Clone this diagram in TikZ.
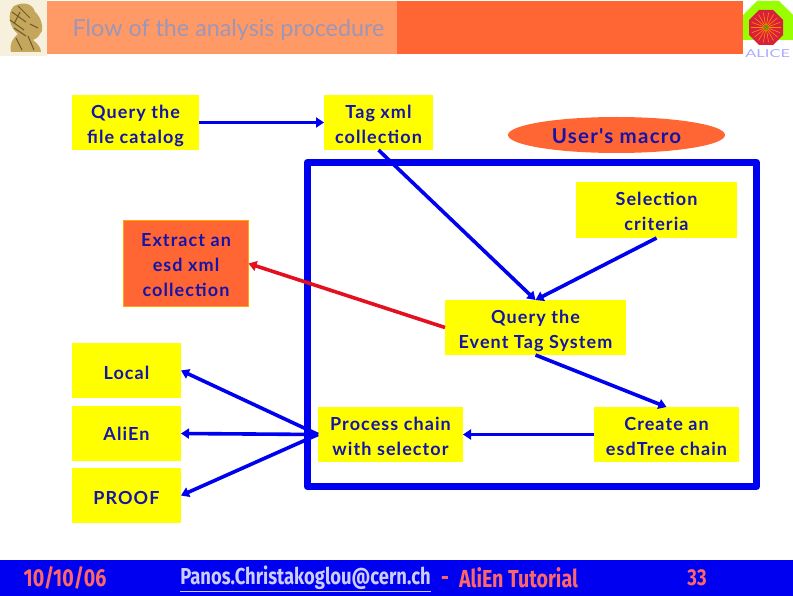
\documentclass[tikz,border=0pt]{standalone}
\usepackage{fontspec}
\usetikzlibrary{arrows.meta,shapes.geometric}
\setmainfont{Lato}
\newfontfamily\boxfont[LetterSpace=6,BoldFont={Lato Bold}]{Lato}
\newfontfamily\footfont[FakeStretch=0.8]{Fira Sans}
\newcommand{\stacktext}[1]{\raisebox{-7.5pt}[0pt][0pt]{\begin{tabular}{@{}c@{}}#1\end{tabular}}}
\definecolor{inkblue}{HTML}{1414A8}
\definecolor{purewall}{HTML}{0000F0}
\definecolor{boxyellow}{HTML}{FFFF00}
\definecolor{hot}{HTML}{FF6633}
\definecolor{pale}{HTML}{FF9966}
\definecolor{titleink}{HTML}{9C96B8}
\definecolor{footred}{HTML}{FF6666}
\definecolor{footpale}{HTML}{CCCCFF}
\definecolor{beige}{HTML}{F6F0DC}
\definecolor{gold}{HTML}{C4A65C}
\definecolor{golddark}{HTML}{6E5A2A}
\definecolor{lime}{HTML}{99FF00}
\definecolor{crimson}{HTML}{D8203C}
\definecolor{arrowred}{HTML}{E41020}
\tikzset{
  x=1pt,y=-1pt,
  lbl/.style={font=\boxfont\bfseries\fontsize{18}{25}\selectfont,text=inkblue,inner sep=0pt,outer sep=0pt},
  ybox/.style={lbl,fill=boxyellow,minimum width=#1,minimum height=55pt},
  ybox/.default=110pt,
  flow/.style={draw=purewall,line width=3.6pt,-{Triangle[length=8pt,width=10pt]}},
  redflow/.style={draw=arrowred,line width=3.6pt,-{Triangle[length=8pt,width=10pt]}},
  foot/.style={font=\footfont\bfseries,inner sep=0pt,anchor=center}
}
\begin{document}
\begin{tikzpicture}
\useasboundingbox (0,0) rectangle (793,596);
\fill[white] (0,0) rectangle (793,596);
% header
\fill[beige] (0,0) rectangle (47,56);
\fill[pale] (47,1) rectangle (397,54);
\fill[hot] (397,1) rectangle (743,54);
\node[font=\fontsize{23.3}{26}\selectfont,text=titleink,inner sep=0pt] (title) at (228.5,30) {Flow of the analysis procedure};
% left emblem
\fill[gold] (14,6) .. controls (24,1) and (33,4) .. (35,12) .. controls (41,17) and (43,26) .. (42,31)
  -- (40,34) .. controls (38,38) and (35,39) .. (33,40) .. controls (38,44) and (41,48) .. (41,52)
  -- (11,52) .. controls (9,44) and (13,38) .. (18,34) .. controls (10,28) and (6,14) .. (14,6) -- cycle;
\draw[golddark,line width=1pt] (12,12) -- (26,22) (10,20) -- (24,30) (18,6) -- (30,18) (16,38) -- (22,50) (28,36) -- (34,50) (30,24) -- (38,28) (14,28) -- (26,36) (20,12) -- (14,24);
% right emblem
\fill[lime] (757,1) -- (779,1) -- (793,15) -- (793,40) -- (743,40) -- (743,15) -- cycle;
\fill[white] (743,40) rectangle (793,60);
\fill[crimson] (759,10) -- (773,10) -- (783,20) -- (783,35) -- (773,45) -- (759,45) -- (749,35) -- (749,20) -- cycle;
\foreach \a in {0,20,...,340}{\draw[orange!90!yellow,line width=.6pt] (766,27.5) -- ++(\a:15);}
\fill[olive] (766,27.5) circle (3);
\node[font=\fontsize{11}{12}\selectfont,text=footpale!85!blue,inner sep=0pt,anchor=west,xscale=1.5] (alice) at (745,54) {ALICE};
% frame
\draw[purewall,line width=7pt,line join=round] (307,162.5) rectangle (756.5,486.5);
% boxes
\node[ybox=127pt] (query) at (135.5,122.5) {\stacktext{Query the\\file catalog}};
\node[ybox=109pt] (tag) at (378.5,122.5) {\stacktext{Tag xml\\collection}};
\node[ellipse,lbl,font=\boxfont\bfseries\fontsize{20.5}{25}\selectfont,fill=hot,minimum width=217pt,minimum height=36pt] (macro) at (616.5,135) {\rule{0pt}{18pt}User's macro};
\node[ybox=161pt,minimum height=56pt] (selection) at (656.5,210) {\stacktext{Selection\\criteria}};
\node[lbl,fill=hot,draw=orange!70!yellow,line width=1pt,minimum width=125pt,minimum height=86pt] (extract) at (186,263.5) {\stacktext{Extract an\\esd xml\\collection}};
\node[ybox=181pt] (event) at (535.5,327.5) {\stacktext{Query the\\Event Tag System}};
\node[ybox=109pt] (local) at (126.5,370.5) {\rule{0pt}{18pt}Local};
\node[ybox=109pt] (alien) at (126.5,433.5) {AliEn};
\node[ybox=109pt] (proof) at (126.5,495.5) {\rule{0pt}{18pt}PROOF};
\node[ybox=145pt] (process) at (390.5,434.5) {\stacktext{Process chain\\with selector}};
\node[ybox=145pt] (create) at (666.5,434.5) {\stacktext{Create an\\esdTree chain}};
% connectors
\draw[flow] (query.east) -- (tag.west);
\draw[flow] (tag.south) -- (event.north);
\draw[flow] (selection.south) -- (event.north);
\draw[redflow] (event.west) -- (extract.east);
\draw[flow] (event.south) -- (create.north);
\draw[flow] (create.west) -- (process.east);
\draw[flow] (process.west) -- (local.east);
\draw[flow] (process.west) -- (alien.east);
\draw[flow] (process.west) -- (proof.east);
% footer
\fill[purewall] (0,560) rectangle (793,596);
\node[foot,font=\footfont\bfseries\fontsize{24.5}{26}\selectfont,text=footred] (date) at (65,578) {10/10/06};
\node[foot,font=\footfont\bfseries\fontsize{23}{26}\selectfont,text=footpale] (mail) at (305.5,578.5) {\underline{Panos.Christakoglou@cern.ch}};
\node[foot,font=\footfont\bfseries\fontsize{24}{26}\selectfont,text=footred] (dash) at (445,581) {-};
\node[foot,font=\footfont\bfseries\fontsize{24.6}{26}\selectfont,text=footred] (tut) at (518.5,578) {AliEn Tutorial};
\node[foot,font=\footfont\bfseries\fontsize{23}{26}\selectfont,text=footred] (page) at (697,578) {33};
\end{tikzpicture}
\end{document}
